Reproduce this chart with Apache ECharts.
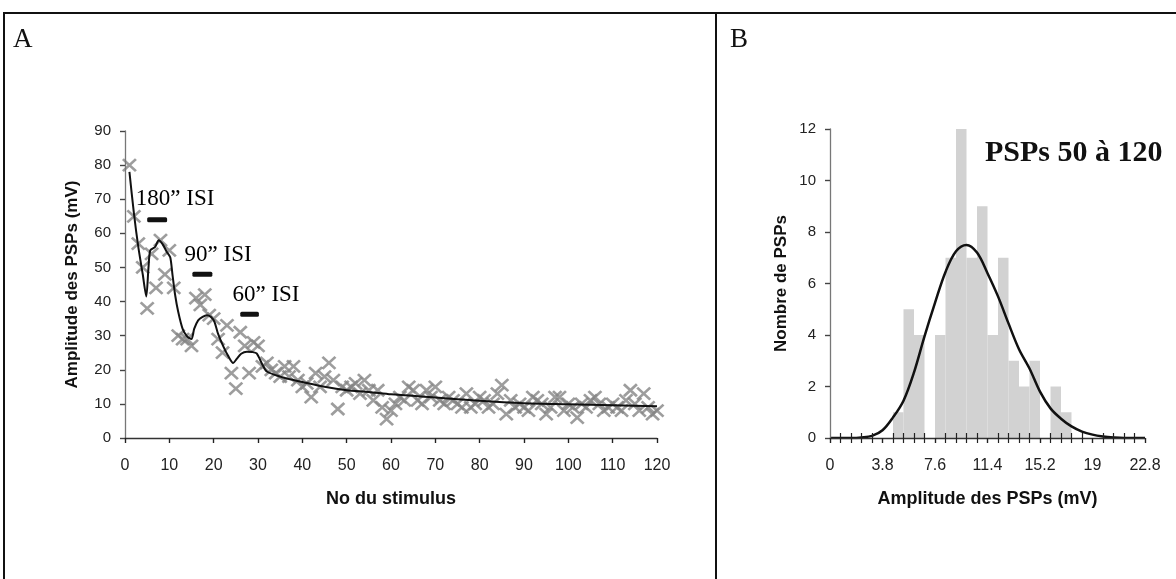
<!DOCTYPE html>
<html><head><meta charset="utf-8">
<script src="https://cdn.jsdelivr.net/npm/echarts@6/dist/echarts.min.js"></script>
<style>html,body{margin:0;padding:0;background:#fff}#c{width:1176px;height:579px}</style>
</head><body><div id="c"></div>
<script>
// ---- Panel A data ----
const pspAmplitude = [80,65,57,50,38,54,44,58,48,55, 44,30,29,29,27,41,39,42,36,35,
  29,25,33,19,14.5,31,27,19,28,27, 21,22,20,19,18,21,18,21,17,15,
  16,12,19,15,18,22,17,8.5,15,14, 15,16,13,17,14,11,14,9,5.5,8,
  10,12,11,15,14,11,10,14,12,15, 11,10,12,11,10,9,13,9,10,12,
  11,9,10,13,15.5,7,11,9,10,9, 8,12,11,10,7,9,12,12,8,10,
  9,6,10,9,11,12,10,8,9,10, 9,8,11,14,10,8,13,9,7,8];
const fitX = [1,2,3,4,4.8,5.3,5.7,6.8,7.6,8.4,9.4,10.2,10.7,11.3,12,13,14,15,15.6,16.5,17.5,18.4,19.4,20.2,21,22.2,23.3,24.4,25.2,26.2,27.5,28.7,29.7,31,32,35,38,40,45,50,55,60,70,80,90,100,110,120];
const fitY = [78,66,56,48,41.5,50,55,56,58,57,54.6,53,48,42,37,32,29.8,29,32,34.5,35.5,36,35.5,34,30.5,26.8,24,22,23.2,24.7,25.3,25.2,24.8,21.5,19.5,18,17,16.4,15,14,13.5,12.8,11.9,10.9,10.2,9.9,9.6,9.3];
const isiBars = [[5,9.5,64],[15.2,19.7,48],[26,30.2,36.3]];
const isiLabels = ['180” ISI','90” ISI','60” ISI'];
const isiLabelPos = [[11.3,70.2],[21,53.8],[31.8,41.8]];
const xTicksA = [0,120,10], yTicksA = [0,90,10];

// ---- Panel B data ----
const binWidth = 0.76;
const binCounts = [0,0,0,0,0,0,1,5,4,0,4,7,12,7,9,4,7,3,2,3,0,2,1,0,0,0,0,0,0,0];
const gaussX = [0,1.52,2.28,3.04,3.8,4.56,5.32,6.08,6.84,7.6,8.36,9.12,9.88,10.64,11.4,12.16,12.92,13.68,14.44,15.2,15.96,16.72,17.48,18.24,19,19.76,20.52,21.28,22.8];
const gaussY = [0,0,0.02,0.08,0.3,0.8,1.45,2.55,3.95,5.25,6.45,7.25,7.5,7.2,6.4,5.5,4.45,3.45,2.7,1.8,1.15,0.75,0.45,0.25,0.13,0.06,0.02,0,0];
const xTicksB = [0,22.8,3.8], yTicksB = [0,12,2];

const chart = echarts.init(document.getElementById('c'));
const sans = 'Liberation Sans, Arial, sans-serif';
const narrow = 'Liberation Sans Narrow, Liberation Sans, Arial, sans-serif';
const serif = 'Liberation Serif, Times New Roman, serif';

function mainX(grid, t, name, extra) {
  return Object.assign({
    gridIndex: grid, type: 'value', min: t[0], max: t[1], interval: t[2], z: 6,
    axisLine: {lineStyle: {color: '#333', width: 1.3}},
    axisTick: {length: 5, lineStyle: {color: '#222', width: 1.2}},
    axisLabel: {margin: 20, fontFamily: narrow, fontSize: 16, color: '#222',
      formatter: v => String(+v.toFixed(2))},
    splitLine: {show: false},
    name: name, nameLocation: 'middle', nameGap: 52,
    nameTextStyle: {fontFamily: narrow, fontWeight: 'bold', fontSize: 18, color: '#111'}
  }, extra || {});
}
function dupX(grid, t, extra) {
  return Object.assign({
    gridIndex: grid, type: 'value', min: t[0], max: t[1], interval: t[2], z: 6,
    axisLine: {show: false}, axisLabel: {show: false}, splitLine: {show: false},
    axisTick: {inside: true, length: 5, lineStyle: {color: '#222', width: 1.2}}
  }, extra || {});
}
function mainY(grid, t, name, gap) {
  return {
    gridIndex: grid, type: 'value', min: t[0], max: t[1], interval: t[2], z: 6,
    axisLine: {lineStyle: {color: '#777', width: 1.3}},
    axisTick: {length: 5, lineStyle: {color: '#444', width: 1.2}},
    axisLabel: {margin: 14, fontFamily: sans, fontSize: 15, color: '#222'},
    splitLine: {show: false},
    name: name, nameLocation: 'middle', nameGap: gap,
    nameTextStyle: {fontFamily: sans, fontWeight: 'bold', fontSize: 17, color: '#111'}
  };
}
function dupY(grid, t) {
  return {
    gridIndex: grid, type: 'value', min: t[0], max: t[1], interval: t[2], z: 6,
    axisLine: {show: false}, axisLabel: {show: false}, splitLine: {show: false},
    axisTick: {inside: true, length: 5, lineStyle: {color: '#444', width: 1.2}}
  };
}
const minorB = {zlevel: 1, minorTick: {show: true, splitNumber: 5, length: 5, lineStyle: {color: '#222', width: 1.2}}};
const minorBin = {zlevel: 1, minorTick: {show: true, splitNumber: 5, length: -5, lineStyle: {color: '#222', width: 1.2}}};

const option = {
  animation: false,
  backgroundColor: '#fff',
  grid: [
    {left: 125, right: 519, top: 131, bottom: 141},
    {left: 830, right: 31, top: 129, bottom: 141}
  ],
  xAxis: [
    mainX(0, xTicksA, 'No du stimulus'),
    dupX(0, xTicksA),
    mainX(1, xTicksB, 'Amplitude des PSPs (mV)', minorB),
    dupX(1, xTicksB, minorBin)
  ],
  yAxis: [
    mainY(0, yTicksA, 'Amplitude des PSPs (mV)', 44),
    dupY(0, yTicksA),
    mainY(1, yTicksB, 'Nombre de PSPs', 40),
    dupY(1, yTicksB)
  ],
  graphic: [
    {type: 'line', shape: {x1: 3, y1: 13, x2: 1176, y2: 13}, style: {stroke: '#111', lineWidth: 2}},
    {type: 'line', shape: {x1: 4, y1: 13, x2: 4, y2: 579}, style: {stroke: '#111', lineWidth: 2}},
    {type: 'line', shape: {x1: 716, y1: 13, x2: 716, y2: 579}, style: {stroke: '#111', lineWidth: 2}},
    {type: 'text', left: 13, top: 26, style: {text: 'A', font: '27px ' + serif, fill: '#111'}},
    {type: 'text', left: 730, top: 26, style: {text: 'B', font: '27px ' + serif, fill: '#111'}},
    {type: 'text', x: 985, y: 153, style: {text: 'PSPs 50 à 120', font: 'bold 30px ' + serif, fill: '#111', verticalAlign: 'middle'}}
  ],
  series: [
    {
      type: 'scatter', xAxisIndex: 0, yAxisIndex: 0, z: 2,
      data: pspAmplitude.map((v, i) => [i + 1, v]),
      symbol: 'path://M0,0L10,10M0,10L10,0', symbolSize: [13, 12],
      itemStyle: {color: 'rgba(0,0,0,0)', borderColor: '#858585', borderWidth: 2.6}
    },
    {
      type: 'line', xAxisIndex: 0, yAxisIndex: 0, z: 3, symbol: 'none', smooth: 0.25,
      data: fitX.map((x, i) => [x, fitY[i]]),
      lineStyle: {color: '#111', width: 2}
    },
    {
      type: 'custom', xAxisIndex: 0, yAxisIndex: 0, z: 4,
      data: isiBars,
      renderItem: function (params, api) {
        const a = api.coord([api.value(0), api.value(2)]);
        const b = api.coord([api.value(1), api.value(2)]);
        return {type: 'rect', shape: {x: a[0], y: a[1] - 2.5, width: b[0] - a[0], height: 5, r: 1.5},
          style: {fill: '#111'}};
      }
    },
    {
      type: 'scatter', xAxisIndex: 0, yAxisIndex: 0, z: 5, silent: true,
      symbol: 'circle', symbolSize: 1, itemStyle: {color: 'rgba(0,0,0,0)', opacity: 1},
      data: isiLabelPos.map((p, i) => ({value: p, name: isiLabels[i]})),
      label: {show: true, position: 'inside', formatter: '{b}', fontFamily: serif, fontSize: 23,
        color: '#000', opacity: 1, textBorderWidth: 0, textBorderColor: 'transparent'},
      emphasis: {disabled: true}
    },
    {
      type: 'custom', xAxisIndex: 2, yAxisIndex: 2, z: 1,
      data: binCounts.map((c, i) => [i * binWidth, (i + 1) * binWidth, c]),
      renderItem: function (params, api) {
        const a = api.coord([api.value(0), api.value(2)]);
        const b = api.coord([api.value(1), 0]);
        return {type: 'rect', shape: {x: a[0], y: a[1], width: b[0] - a[0], height: b[1] - a[1]},
          style: {fill: '#d2d2d2'}};
      }
    },
    {
      type: 'line', xAxisIndex: 2, yAxisIndex: 2, z: 3, symbol: 'none', smooth: 0.35,
      data: gaussX.map((x, i) => [x, gaussY[i]]),
      lineStyle: {color: '#111', width: 2.5}
    }
  ]
};
chart.setOption(option);
</script>
</body></html>
